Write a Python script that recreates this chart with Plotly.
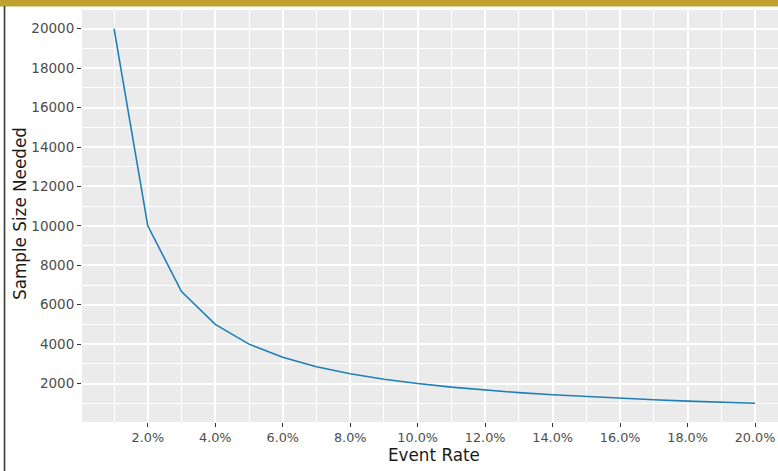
import plotly.graph_objects as go

# Data
event_rate_pct = [1, 2, 3, 4, 5, 6, 7, 8, 9, 10, 11, 12, 13, 14, 15, 16, 17, 18, 19, 20]
sample_size = [20000, 10000, 6667, 5000, 4000, 3333, 2857, 2500, 2222, 2000,
               1818, 1667, 1538, 1429, 1333, 1250, 1176, 1111, 1053, 1000]
x_tick_vals = [2, 4, 6, 8, 10, 12, 14, 16, 18, 20]
x_tick_text = ["2.0%", "4.0%", "6.0%", "8.0%", "10.0%", "12.0%", "14.0%", "16.0%", "18.0%", "20.0%"]
y_tick_vals = [2000, 4000, 6000, 8000, 10000, 12000, 14000, 16000, 18000, 20000]

W, H = 778, 471
ML, MT, MR, MB = 82, 10, 0, 49
PW = W - ML - MR
PH = H - MT - MB

def px_x(px):
    return (px - ML) / PW

def px_y(py):
    return (H - MB - py) / PH

fig = go.Figure()
fig.add_trace(go.Scatter(
    x=event_rate_pct, y=sample_size, mode="lines",
    line=dict(color="#1f80b6", width=1.6),
    hoverinfo="skip", showlegend=False,
))

fig.update_layout(
    width=W, height=H,
    margin=dict(l=ML, r=MR, t=MT, b=MB, pad=0),
    paper_bgcolor="white",
    plot_bgcolor="#ebebeb",
    font=dict(family="DejaVu Sans"),
    xaxis=dict(
        range=[0.05, 20.68],
        tickvals=x_tick_vals, ticktext=x_tick_text,
        ticks="outside", ticklen=4, tickwidth=1.2, tickcolor="#333333",
        tickfont=dict(family="DejaVu Sans", size=12.8, color="#4d4d4d"),
        showgrid=True, gridcolor="white", gridwidth=1.8,
        minor=dict(dtick=1, tick0=0, showgrid=True, gridcolor="white", gridwidth=0.9),
        zeroline=False, showline=False,
    ),
    yaxis=dict(
        range=[50, 20950],
        tickvals=y_tick_vals, tickformat="d",
        ticks="outside", ticklen=4, tickwidth=1.2, tickcolor="#333333",
        tickfont=dict(family="DejaVu Sans", size=13.5, color="#4d4d4d"),
        showgrid=True, gridcolor="white", gridwidth=1.8,
        minor=dict(dtick=1000, tick0=1000, showgrid=True, gridcolor="white", gridwidth=0.9),
        zeroline=False, showline=False,
    ),
    shapes=[
        # gold band at the top
        dict(type="rect", xref="paper", yref="paper",
             x0=px_x(0), x1=px_x(W), y0=px_y(6.5), y1=px_y(-1),
             fillcolor="#c1a12f", line=dict(width=0), layer="above"),
        # left border line
        dict(type="line", xref="paper", yref="paper",
             x0=px_x(4.5), x1=px_x(4.5), y0=px_y(6), y1=px_y(H + 2),
             line=dict(color="#3a3a3a", width=1.6)),
    ],
    annotations=[
        dict(text="Event Rate", xref="paper", yref="paper",
             x=px_x(434), y=px_y(455), xanchor="center", yanchor="middle",
             showarrow=False, font=dict(family="DejaVu Sans", size=16.8, color="#1a1a1a")),
        dict(text="Sample Size Needed", xref="paper", yref="paper",
             x=px_x(20), y=px_y(214), xanchor="center", yanchor="middle", textangle=-90,
             showarrow=False, font=dict(family="DejaVu Sans", size=16.8, color="#1a1a1a")),
    ],
)

fig.write_html("out.html", config={"displayModeBar": False},
               post_script="document.body.style.margin='0';document.body.style.padding='0';")
